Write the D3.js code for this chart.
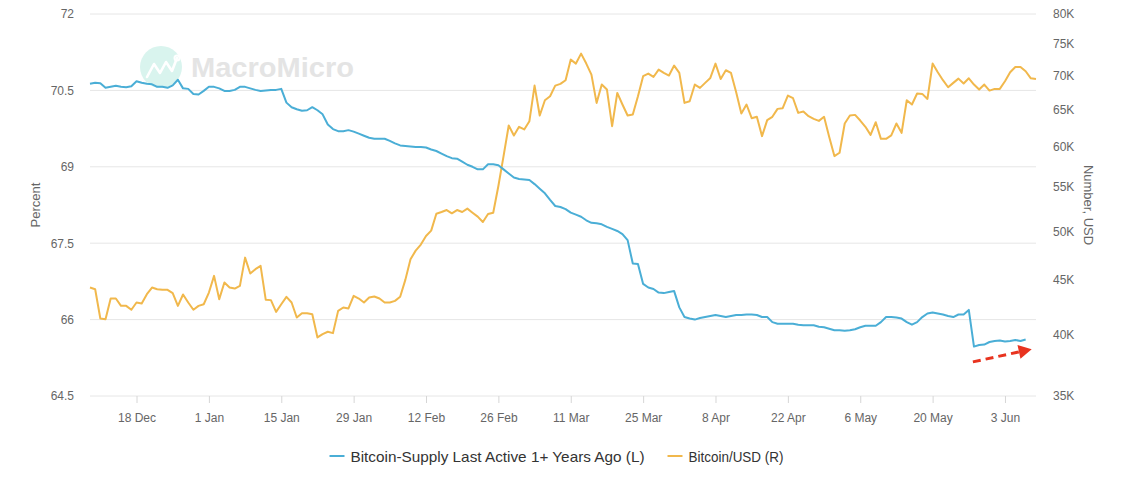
<!DOCTYPE html>
<html>
<head>
<meta charset="utf-8">
<script src="https://cdn.jsdelivr.net/npm/d3@7"></script>
<style>
  html, body { margin: 0; padding: 0; background: #fff; }
  svg { display: block; font-family: "Liberation Sans", Arial, Helvetica, sans-serif; }
</style>
</head>
<body>
<svg id="chart" width="1126" height="484"></svg>
<script>
// ---------------- DATA ----------------
const startDate = "2023-12-09";   // first daily observation
const endDate = "2024-06-09";     // right edge of the x domain

// Bitcoin-Supply Last Active 1+ Years Ago (%), daily from startDate (left axis)
const supplyPct = [
  70.63, 70.65, 70.64, 70.55, 70.57, 70.59, 70.57, 70.56, 70.58, 70.68,
  70.65, 70.63, 70.62, 70.57, 70.57, 70.55, 70.60, 70.71, 70.54, 70.53,
  70.43, 70.42, 70.49, 70.57, 70.57, 70.54, 70.49, 70.49, 70.51, 70.57,
  70.57, 70.54, 70.51, 70.49, 70.50, 70.51, 70.51, 70.53, 70.26, 70.17,
  70.13, 70.10, 70.11, 70.17, 70.11, 70.03, 69.83, 69.74, 69.70, 69.70,
  69.72, 69.69, 69.65, 69.61, 69.57, 69.55, 69.55, 69.55, 69.51, 69.46,
  69.42, 69.41, 69.40, 69.39, 69.39, 69.38, 69.34, 69.31, 69.26, 69.21,
  69.17, 69.16, 69.10, 69.04, 69.00, 68.95, 68.95, 69.05, 69.05, 69.03,
  68.95, 68.87, 68.79, 68.76, 68.75, 68.74, 68.66, 68.57, 68.48, 68.35,
  68.23, 68.21,
  68.17, 68.10, 68.06, 68.02, 67.95, 67.90, 67.89, 67.87, 67.82, 67.78,
  67.74, 67.68, 67.56, 67.10, 67.09, 66.70, 66.63, 66.60, 66.53, 66.52,
  66.54, 66.56, 66.24, 66.05, 66.02, 66.00, 66.03, 66.05, 66.07, 66.09,
  66.07, 66.05, 66.07, 66.09, 66.09, 66.10, 66.10, 66.09, 66.05, 66.05,
  65.95, 65.92, 65.92, 65.92, 65.92, 65.90, 65.89, 65.89, 65.89, 65.86,
  65.85, 65.82, 65.79, 65.79, 65.78, 65.79, 65.81, 65.85, 65.88, 65.88,
  65.88, 65.95, 66.05, 66.05, 66.04, 66.02, 65.95, 65.90, 65.95, 66.05,
  66.12, 66.14, 66.12, 66.10, 66.07, 66.05, 66.10, 66.10, 66.19, 65.47,
  65.50, 65.51, 65.56, 65.58, 65.59, 65.57, 65.58, 65.60, 65.58, 65.61
];

// Bitcoin/USD (thousands of USD), daily from startDate (right axis, log)
const btcUsdK = [
  44.26, 44.10, 41.39, 41.33, 43.22, 43.22, 42.54, 42.54, 42.18, 42.85,
  42.76, 43.63, 44.26, 44.10, 44.04, 44.04, 43.72, 42.54, 43.60, 42.85,
  42.18, 42.54, 42.69, 43.78, 45.39, 43.16, 44.74, 44.26, 44.16, 44.42,
  47.22, 45.62, 46.05, 46.38, 43.10, 43.07, 41.99, 42.69, 43.38, 42.85,
  41.48, 41.87, 41.87, 41.78, 39.73, 40.02, 40.22, 40.10, 42.08, 42.39,
  42.30, 43.47, 43.22, 42.85, 43.31, 43.41, 43.22, 42.85, 42.85, 43.00,
  43.38, 45.00, 47.05, 47.94, 48.57, 49.48, 50.06, 51.93, 52.12, 52.34,
  51.97, 52.34, 52.12, 52.50, 52.04, 51.60, 51.00, 51.89, 52.04, 55.13,
  58.82, 62.85, 61.50, 62.67, 62.31, 63.44, 68.52, 64.22, 66.38, 66.96,
  68.52, 68.77,
  69.32, 72.48, 71.86, 73.42, 71.86, 70.17, 66.00, 68.67, 67.93, 62.76,
  67.44, 65.77, 64.22, 64.36, 66.96, 69.92, 70.32, 69.81, 70.93, 70.42,
  70.02, 71.55, 70.42, 66.00, 66.24, 68.67, 68.18, 68.92, 69.66, 71.86,
  69.51, 70.83, 70.42, 67.54, 64.50, 65.77, 63.85, 64.04, 61.42, 63.58,
  64.04, 65.15, 65.25, 67.06, 66.67, 64.59, 64.78, 64.13, 63.75, 63.48,
  64.04, 61.30, 58.82, 59.25, 63.12, 64.22, 64.31, 63.53, 62.67, 61.59,
  63.30, 61.06, 61.06, 61.51, 63.12, 61.86, 66.38, 65.77, 67.35, 67.30,
  66.57, 71.86, 70.52, 69.32, 68.27, 68.92, 69.56, 68.82, 69.61, 68.67,
  67.93, 68.67, 67.78, 68.03, 68.03, 69.16, 70.52, 71.34, 71.34, 70.68,
  69.61, 69.51
];

const leftTicks = [64.5, 66, 67.5, 69, 70.5, 72];
const rightTicks = [35000, 40000, 45000, 50000, 55000, 60000, 65000, 70000, 75000, 80000];
const rightTickLabels = ["35K", "40K", "45K", "50K", "55K", "60K", "65K", "70K", "75K", "80K"];
const xTickDates = ["2023-12-18", "2024-01-01", "2024-01-15", "2024-01-29", "2024-02-12", "2024-02-26",
  "2024-03-11", "2024-03-25", "2024-04-08", "2024-04-22", "2024-05-06", "2024-05-20", "2024-06-03"];
const xTickLabels = ["18 Dec", "1 Jan", "15 Jan", "29 Jan", "12 Feb", "26 Feb",
  "11 Mar", "25 Mar", "8 Apr", "22 Apr", "6 May", "20 May", "3 Jun"];
const seriesNames = ["Bitcoin-Supply Last Active 1+ Years Ago (L)", "Bitcoin/USD (R)"];
const axisTitles = ["Percent", "Number, USD"];
// annotation arrow (date, left-axis value)
const arrowPoints = [["2024-05-27T19:00", 65.17], ["2024-06-08T04:00", 65.42]];

// ---------------- CHART ----------------
const BLUE = "#4aaed6", ORANGE = "#f1b84c", GRID = "#e6e6e6", TXT = "#666";
const svg = d3.select("#chart");
const parse = d3.utcParse("%Y-%m-%d");
const parseT = d3.utcParse("%Y-%m-%dT%H:%M");
const t0 = parse(startDate);

const plot = { left: 90, right: 1036, top: 14, bottom: 396 };
const x = d3.scaleUtc().domain([t0, parse(endDate)]).range([plot.left, plot.right]);
const yL = d3.scaleLinear().domain([64.5, 72]).range([plot.bottom, plot.top]);
const yR = d3.scaleLog().domain([35000, 80000]).range([plot.bottom, plot.top]);

// watermark
const wm = svg.append("g").attr("class", "watermark");
wm.append("circle").attr("cx", 161).attr("cy", 67).attr("r", 21).attr("fill", "#d9f4ee");
wm.append("path")
  .attr("d", "M147,77 L154,64 L160,73 L166,62 L172,71 L177,58")
  .attr("fill", "none").attr("stroke", "#fff").attr("stroke-width", 2.6)
  .attr("stroke-linejoin", "round").attr("stroke-linecap", "round");
wm.append("circle").attr("cx", 177).attr("cy", 58).attr("r", 2.5).attr("fill", "none")
  .attr("stroke", "#fff").attr("stroke-width", 2);
wm.append("text").attr("x", 191).attr("y", 77).attr("font-size", 27).attr("font-weight", "bold")
  .attr("fill", "#e4e4e4").attr("textLength", 163).attr("lengthAdjust", "spacingAndGlyphs")
  .text("MacroMicro");

// gridlines
svg.append("g").selectAll("line").data(leftTicks).join("line")
  .attr("x1", plot.left).attr("x2", plot.right)
  .attr("y1", d => yL(d)).attr("y2", d => yL(d))
  .attr("stroke", GRID).attr("stroke-width", 1);

// left axis
const axL = svg.append("g").attr("transform", `translate(${plot.left - 16},0)`)
  .call(d3.axisLeft(yL).tickValues(leftTicks).tickSize(0).tickPadding(0).tickFormat(d3.format("")));
axL.select(".domain").remove();
axL.selectAll("text").attr("fill", TXT).attr("font-size", 12).attr("font-family", "Liberation Sans, Arial, sans-serif");

// right axis
const axR = svg.append("g").attr("transform", `translate(${plot.right + 17},0)`)
  .call(d3.axisRight(yR).tickValues(rightTicks).tickSize(0).tickPadding(0)
    .tickFormat((d, i) => rightTickLabels[i]));
axR.select(".domain").remove();
axR.selectAll("text").attr("fill", TXT).attr("font-size", 12).attr("font-family", "Liberation Sans, Arial, sans-serif");

// x axis
const xTicks = xTickDates.map(parse);
const axX = svg.append("g").attr("transform", `translate(0,${plot.bottom})`)
  .call(d3.axisBottom(x).tickValues(xTicks).tickSize(7).tickPadding(10)
    .tickFormat((d, i) => xTickLabels[i]));
axX.select(".domain").remove();
axX.selectAll(".tick line").attr("stroke", "#d6d6d6");
axX.selectAll("text").attr("fill", TXT).attr("font-size", 12).attr("font-family", "Liberation Sans, Arial, sans-serif");

// axis titles
svg.append("text").attr("transform", `translate(40,${(plot.top + plot.bottom) / 2}) rotate(-90)`)
  .attr("text-anchor", "middle").attr("font-size", 13).attr("fill", TXT).text(axisTitles[0]);
svg.append("text").attr("transform", `translate(1084,${(plot.top + plot.bottom) / 2}) rotate(90)`)
  .attr("text-anchor", "middle").attr("font-size", 13).attr("fill", TXT).text(axisTitles[1]);

// lines
const blueData = supplyPct.map((v, i) => ({ date: d3.utcDay.offset(t0, i), v }));
const orangeData = btcUsdK.map((v, i) => ({ date: d3.utcDay.offset(t0, i), v: v * 1000 }));

svg.append("path").datum(orangeData)
  .attr("fill", "none").attr("stroke", ORANGE).attr("stroke-width", 2).attr("stroke-linejoin", "round")
  .attr("d", d3.line().x(d => x(d.date)).y(d => yR(d.v)));
svg.append("path").datum(blueData)
  .attr("fill", "none").attr("stroke", BLUE).attr("stroke-width", 2).attr("stroke-linejoin", "round")
  .attr("d", d3.line().x(d => x(d.date)).y(d => yL(d.v)));

// red dashed arrow annotation
const a0 = [x(parseT(arrowPoints[0][0])), yL(arrowPoints[0][1])];
const a1 = [x(parseT(arrowPoints[1][0])), yL(arrowPoints[1][1])];
const ang = Math.atan2(a1[1] - a0[1], a1[0] - a0[0]);
const headLen = 13, headW = 7;
const base = [a1[0] - headLen * Math.cos(ang), a1[1] - headLen * Math.sin(ang)];
svg.append("line").attr("x1", a0[0]).attr("y1", a0[1]).attr("x2", base[0]).attr("y2", base[1])
  .attr("stroke", "#e8331f").attr("stroke-width", 3).attr("stroke-dasharray", "8,5");
const nx = -Math.sin(ang), ny = Math.cos(ang);
svg.append("path")
  .attr("d", `M${a1[0]},${a1[1]} L${base[0] + nx * headW},${base[1] + ny * headW} L${base[0] - nx * headW},${base[1] - ny * headW} Z`)
  .attr("fill", "#e8331f");

// legend
const legendTextWidths = [294, 95];
const legend = svg.append("g");
const items = [{ name: seriesNames[0], color: BLUE }, { name: seriesNames[1], color: ORANGE }];
let cx = 0;
items.forEach((it, i) => {
  const g = legend.append("g").attr("transform", `translate(${cx},0)`);
  g.append("line").attr("x1", 0).attr("x2", 15).attr("y1", 0).attr("y2", 0)
    .attr("stroke", it.color).attr("stroke-width", 2);
  g.append("text").attr("x", 21).attr("y", 5.5).attr("font-size", 15).attr("fill", "#333")
    .attr("textLength", legendTextWidths[i]).attr("lengthAdjust", "spacingAndGlyphs").text(it.name);
  cx += 21 + legendTextWidths[i] + 23;
});
legend.attr("transform", `translate(329.5,456)`);
</script>
</body>
</html>
